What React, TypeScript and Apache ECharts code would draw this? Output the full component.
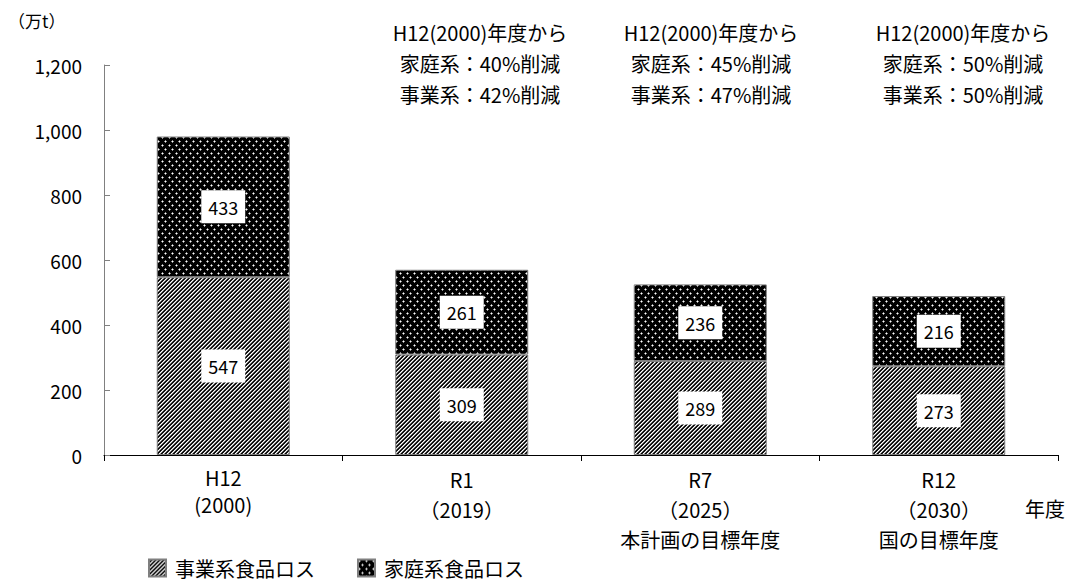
import React, { useEffect, useRef } from "react";
import * as echarts from "echarts";

const categories = [
  "H12\n(2000)",
  "R1\n（2019）",
  "R7\n（2025）\n本計画の目標年度",
  "R12\n（2030）\n国の目標年度",
];
const businessLoss = [547, 309, 289, 273];
const householdLoss = [433, 261, 236, 216];
const seriesNames = ["事業系食品ロス", "家庭系食品ロス"];
const yTicks = { min: 0, max: 1200, interval: 200 };
const annotations = [
  ["H12(2000)年度から", "家庭系：40%削減", "事業系：42%削減"],
  ["H12(2000)年度から", "家庭系：45%削減", "事業系：47%削減"],
  ["H12(2000)年度から", "家庭系：50%削減", "事業系：50%削減"],
];
const unitLabel = "（万t）";
const xAxisName = "年度";

const FONT = '"Noto Sans CJK JP", "Noto Sans", sans-serif';

function makeStripe(): string {
  const n = 4;
  const c = document.createElement("canvas");
  c.width = n;
  c.height = n;
  const ctx = c.getContext("2d")!;
  const img = ctx.createImageData(n, n);
  const vals = [255, 150, 0, 40];
  for (let y = 0; y < n; y++) {
    for (let x = 0; x < n; x++) {
      const v = vals[(x + y) % n];
      const i = (y * n + x) * 4;
      img.data[i] = v;
      img.data[i + 1] = v;
      img.data[i + 2] = v;
      img.data[i + 3] = 255;
    }
  }
  ctx.putImageData(img, 0, 0);
  return c.toDataURL();
}

function makeDots(): string {
  const w = 7;
  const h = 8;
  const c = document.createElement("canvas");
  c.width = w;
  c.height = h;
  const ctx = c.getContext("2d")!;
  const img = ctx.createImageData(w, h);
  const px = new Array(w * h).fill(0);
  const put = (x: number, y: number, v: number) => {
    const xx = ((x % w) + w) % w;
    const yy = ((y % h) + h) % h;
    px[yy * w + xx] = Math.max(px[yy * w + xx], v);
  };
  const dot = (x: number, y: number) => {
    put(x, y, 255);
    put(x + 1, y, 140);
    put(x - 1, y, 140);
    put(x, y + 1, 140);
    put(x, y - 1, 140);
  };
  dot(1, 1);
  dot(4, 5);
  for (let i = 0; i < w * h; i++) {
    img.data[i * 4] = px[i];
    img.data[i * 4 + 1] = px[i];
    img.data[i * 4 + 2] = px[i];
    img.data[i * 4 + 3] = 255;
  }
  ctx.putImageData(img, 0, 0);
  return c.toDataURL();
}

export default function App() {
  const ref = useRef<HTMLDivElement>(null);
  useEffect(() => {
    if (!ref.current) return;
    const chart = echarts.init(ref.current, null, { renderer: "svg" });
    const stripe = { image: makeStripe(), repeat: "repeat", imageWidth: 4, imageHeight: 4 } as any;
    const dots = { image: makeDots(), repeat: "repeat", imageWidth: 7, imageHeight: 8 } as any;

    const labelStyle = {
      show: true,
      position: "inside",
      color: "#000",
      fontSize: 18,
      fontFamily: FONT,
      backgroundColor: "#fff",
      padding: [7, 7, 6, 7],
      lineHeight: 20,
    };

    const annCenters = [480, 711, 963];
    const annY = [32, 63, 94];
    const graphics: any[] = [];
    annotations.forEach((lines, bi) => {
      lines.forEach((t, li) => {
        graphics.push({
          type: "text",
          x: annCenters[bi],
          y: annY[li],
          style: {
            text: t,
            fontSize: 20,
            fontFamily: FONT,
            fill: "#000",
            textAlign: "center",
            textVerticalAlign: "middle",
          },
        });
      });
    });
    graphics.push({
      type: "text",
      x: 8,
      y: 20,
      style: {
        text: unitLabel,
        fontSize: 17,
        fontFamily: FONT,
        fill: "#000",
        textAlign: "left",
        textVerticalAlign: "middle",
      },
    });
    graphics.push({
      type: "text",
      x: 1045,
      y: 508,
      style: {
        text: xAxisName,
        fontSize: 20,
        fontFamily: FONT,
        fill: "#000",
        textAlign: "center",
        textVerticalAlign: "middle",
      },
    });

    chart.setOption({
      animation: false,
      backgroundColor: "#fff",
      grid: { left: 104, right: 13, top: 65, bottom: 126, containLabel: false },
      legend: {
        left: 148,
        top: 558,
        itemWidth: 17,
        itemHeight: 17,
        itemGap: 42,
        icon: "rect",
        padding: 0,
        data: seriesNames,
        textStyle: { fontSize: 20, lineHeight: 20, fontFamily: FONT, color: "#000", padding: [0, 0, 0, 4] },
      },
      xAxis: {
        type: "category",
        data: categories,
        axisLine: { lineStyle: { color: "#000", width: 1 } },
        axisTick: { show: true, length: 6, alignWithLabel: false, lineStyle: { color: "#000" } },
        axisLabel: {
          margin: 9,
          interval: 0,
          formatter: (v: string, i: number) =>
            v
              .split("\n")
              .map((l) => `{${i === 0 ? "a" : "b"}|${l}}`)
              .join("\n"),
          rich: {
            a: { fontSize: 20, fontFamily: FONT, color: "#000", lineHeight: 27, align: "center" },
            b: { fontSize: 20, fontFamily: FONT, color: "#000", lineHeight: 30, align: "center" },
          },
        },
      },
      yAxis: {
        type: "value",
        min: yTicks.min,
        max: yTicks.max,
        interval: yTicks.interval,
        splitLine: { show: false },
        axisLine: { show: true, lineStyle: { color: "#808080", width: 1 } },
        axisTick: { show: true, inside: true, length: 6, lineStyle: { color: "#808080" } },
        axisLabel: {
          margin: 22,
          fontSize: 19,
          fontFamily: FONT,
          color: "#000",
          formatter: (v: number) => v.toLocaleString("en-US"),
        },
      },
      series: [
        {
          name: seriesNames[0],
          type: "bar",
          stack: "total",
          barWidth: 133,
          data: businessLoss,
          itemStyle: { color: stripe, borderColor: "#7f7f7f", borderWidth: 1 },
          label: labelStyle,
        },
        {
          name: seriesNames[1],
          type: "bar",
          stack: "total",
          barWidth: 133,
          data: householdLoss,
          itemStyle: { color: dots, borderColor: "#7f7f7f", borderWidth: 1 },
          label: labelStyle,
        },
      ],
      graphic: graphics,
    } as any);
    return () => chart.dispose();
  }, []);
  return (
    <div
      ref={ref}
      style={{ position: "fixed", left: 0, top: 0, width: 1071, height: 581, background: "#fff" }}
    />
  );
}
